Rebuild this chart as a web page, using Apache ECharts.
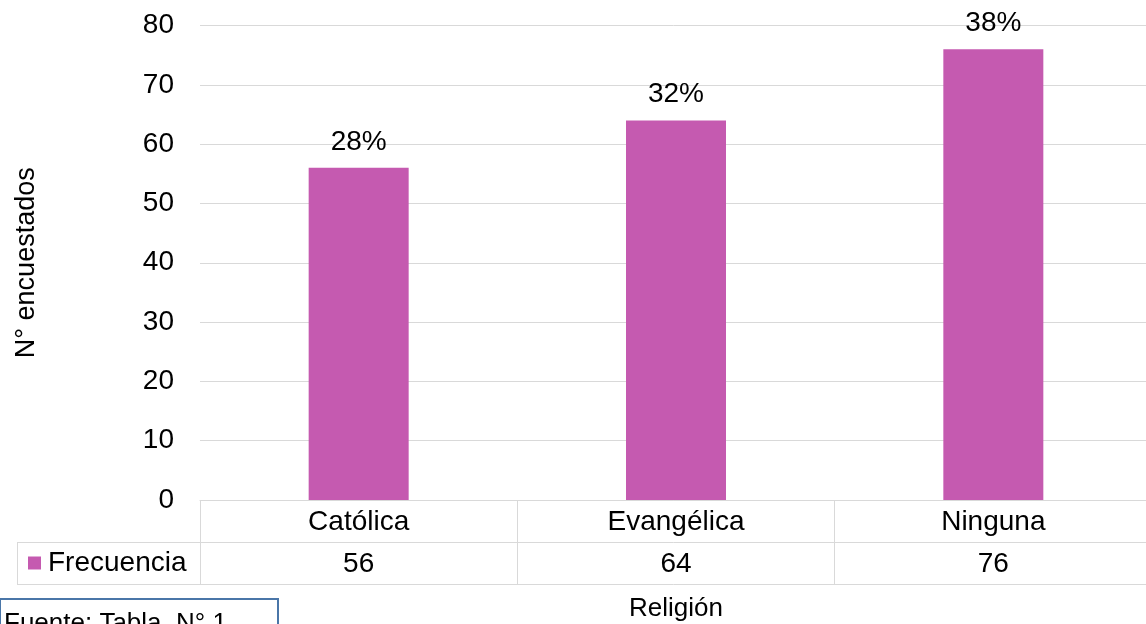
<!DOCTYPE html>
<html>
<head>
<meta charset="utf-8">
<script src="https://cdn.jsdelivr.net/npm/echarts@6/dist/echarts.min.js"></script>
<style>
html,body{margin:0;padding:0;background:#fff;}
#c{width:1146px;height:624px;}
</style>
</head>
<body>
<div id="c"></div>
<script>
const categories = ['Católica', 'Evangélica', 'Ninguna'];
const frecuencia = [56, 64, 76];
const percentLabels = ['28%', '32%', '38%'];
const yTicks = { min: 0, max: 80, interval: 10 };
const seriesName = 'Frecuencia';

const FONT = "'Liberation Sans', Arial, sans-serif";
const BAR = '#C55AB0';
const LINE = '#d9d9d9';

const chart = echarts.init(document.getElementById('c'), null, { renderer: 'canvas' });
chart.setOption({
  backgroundColor: '#fff',
  animation: false,
  textStyle: { fontFamily: FONT },
  grid: { left: 200, right: -6, top: 25.5, bottom: 124, containLabel: false, outerBoundsMode: 'none' },
  legend: {
    left: 23, top: 544,
    icon: 'rect', itemWidth: 13, itemHeight: 13,
    data: [seriesName],
    textStyle: { fontFamily: FONT, fontSize: 28, color: '#000', padding: [0, 0, 0, 2] },
    selectedMode: false
  },
  xAxis: [
    {
      type: 'category', data: categories, position: 'bottom',
      axisLine: { show: true, lineStyle: { color: LINE, width: 1 } },
      axisTick: { show: true, length: 84, inside: false, alignWithLabel: false, lineStyle: { color: LINE } },
      axisLabel: { fontFamily: FONT, fontSize: 28, color: '#000', margin: 8 },
      splitLine: { show: false }
    },
    {
      type: 'category', data: frecuencia.map(String), position: 'bottom', offset: 42,
      axisLine: { show: true, lineStyle: { color: LINE, width: 1 } },
      axisTick: { show: false },
      axisLabel: { fontFamily: FONT, fontSize: 28, color: '#000', margin: 8 },
      splitLine: { show: false }
    },
    {
      type: 'category', data: categories, position: 'bottom', offset: 84,
      axisLine: { show: true, lineStyle: { color: LINE, width: 1 } },
      axisTick: { show: false },
      axisLabel: { show: false },
      name: 'Religión', nameLocation: 'middle', nameGap: 12,
      nameTextStyle: { fontFamily: FONT, fontSize: 26, color: '#000' }
    }
  ],
  yAxis: {
    type: 'value', min: yTicks.min, max: yTicks.max, interval: yTicks.interval,
    axisLine: { show: false }, axisTick: { show: false },
    axisLabel: { fontFamily: FONT, fontSize: 28, color: '#000', margin: 26 },
    splitLine: { show: true, lineStyle: { color: LINE, width: 1 } },
    name: 'N° encuestados', nameLocation: 'middle', nameRotate: 90, nameGap: 160,
    nameTextStyle: { fontFamily: FONT, fontSize: 27, color: '#000' }
  },
  series: [{
    name: seriesName, type: 'bar', xAxisIndex: 0, barWidth: 100,
    data: frecuencia,
    itemStyle: { color: BAR },
    label: {
      show: true, position: 'top', distance: 12,
      fontFamily: FONT, fontSize: 28, color: '#000',
      formatter: p => percentLabels[p.dataIndex]
    }
  }],
  graphic: [
    { type: 'line', shape: { x1: 17, y1: 542.5, x2: 200, y2: 542.5 }, style: { stroke: LINE, lineWidth: 1 } },
    { type: 'line', shape: { x1: 17, y1: 584.5, x2: 200, y2: 584.5 }, style: { stroke: LINE, lineWidth: 1 } },
    { type: 'line', shape: { x1: 17.5, y1: 542, x2: 17.5, y2: 585 }, style: { stroke: LINE, lineWidth: 1 } },
    { type: 'rect', shape: { x: 0, y: 599, width: 278, height: 40 }, style: { fill: '#fff', stroke: '#4a76a8', lineWidth: 2 } },
    { type: 'text', left: 4, top: 611, style: { text: 'Fuente: Tabla  N° 1', fontFamily: FONT, fontSize: 26, fill: '#000' } }
  ]
});
</script>
</body>
</html>
